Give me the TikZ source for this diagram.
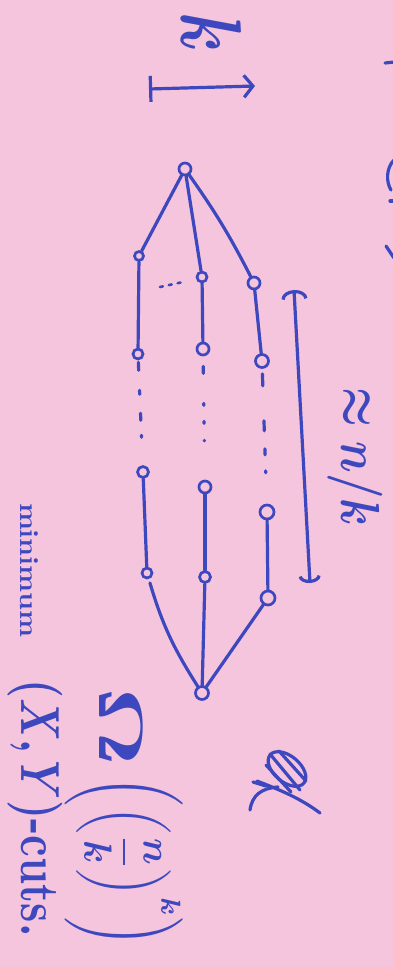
\documentclass[tikz,border=0pt]{standalone}
\usepackage{graphicx}
\usetikzlibrary{arrows.meta}
\definecolor{paper}{RGB}{245,197,222}
\definecolor{ink}{RGB}{62,72,190}
\begin{document}
\begin{tikzpicture}[x=1pt,y=-1pt,
  hand/.style={rotate=-90, inner sep=0pt, outer sep=0pt, text=ink, font=\bfseries\boldmath},
  vtx/.style={circle, draw=ink, line width=2.7pt, minimum size=11pt, inner sep=0pt},
  pen/.style={draw=ink, line width=3.2pt, line cap=round, line join=round}]
\fill[paper] (0,0) rectangle (393,967);
\useasboundingbox (0,0) rectangle (393,967);

% vertices
\node[vtx, minimum size=12pt] (s)  at (185,169) {};
\node[vtx, minimum size=9pt]  (L1) at (139,256) {};
\node[vtx, minimum size=10pt] (L2) at (138,354) {};
\node[vtx, minimum size=11pt] (L3) at (143,472) {};
\node[vtx, minimum size=10pt] (L4) at (147,573) {};
\node[vtx, minimum size=10pt] (M1) at (202,277) {};
\node[vtx, minimum size=12pt] (M2) at (203,349) {};
\node[vtx, minimum size=12pt] (M3) at (205,487) {};
\node[vtx, minimum size=11pt] (M4) at (205,577) {};
\node[vtx, minimum size=12pt] (R1) at (254,283) {};
\node[vtx, minimum size=13pt] (R2) at (262,361) {};
\node[vtx, minimum size=14pt] (R3) at (267,512) {};
\node[vtx, minimum size=14pt] (R4) at (268,598) {};
\node[vtx, minimum size=13pt] (t)  at (202,693) {};

% edges
\draw[pen] (s) -- (L1);
\draw[pen] (s) -- (M1);
\draw[pen] (s) to[bend left=4] (R1);
\draw[pen] (L1) -- (L2);
\draw[pen] (M1) -- (M2);
\draw[pen] (R1) -- (R2);
\draw[pen, shorten <=2pt, dash pattern=on 8pt off 20pt on 4pt off 19pt on 7pt off 15pt on 2pt off 100pt] (L2) -- (L3);
\draw[pen, shorten <=10pt, dash pattern=on 7pt off 30pt on 2pt off 16pt on 2pt off 17pt on 0.5pt off 100pt] (M2) -- (M3);
\draw[pen, shorten <=5pt, dash pattern=on 12pt off 35pt on 10pt off 18pt on 6pt off 16pt on 2pt off 100pt] (R2) -- (R3);
\draw[pen] (L3) -- (L4);
\draw[pen] (M3) -- (M4);
\draw[pen] (R3) -- (R4);
\draw[pen, shorten <=4pt] (L4) to[bend right=8] (t);
\draw[pen] (M4) -- (t);
\draw[pen] (R4) -- (t);

% dots between left and middle path
\coordinate (d1) at (160,287);
\coordinate (d2) at (183,282);
\draw[pen, line width=2.6pt, dash pattern=on 3pt off 6pt] (d1) -- (d2);

% length arrow
\coordinate (a1) at (294,290);
\coordinate (a2) at (310,583);
\draw[pen, {Arc Barb[length=9pt,width=26pt]}-{Arc Barb[length=7pt,width=22pt]}] (a1) -- (a2);
\node[hand] (approx) at (355,457) {\resizebox*{139pt}{55pt}{$\approx n/k$}};

% top: k and arrow
\node[hand] (kk) at (212,33) {\resizebox*{40pt}{60pt}{$k$}};
\coordinate (ta) at (149,89);
\coordinate (tb) at (255,86);
\draw[pen, {Bar[width=26pt]}-{Straight Barb[length=9pt,width=22pt]}] (ta) -- (tb);

% bottom text
\node[hand] (om) at (121,727) {\resizebox*{79pt}{43pt}{$\Omega$}};
\node[hand] (pp) at (124,862) {\resizebox*{170pt}{118pt}{$\displaystyle\left(\left(\frac{n}{k}\right)^{k}\right)$}};
\node[hand] (mn) at (29,570) {\resizebox*{134pt}{18pt}{minimum}};
\node[hand] (ct) at (35,808) {\resizebox*{257pt}{55pt}{$(X,Y)$-cuts.}};

% crossed-out scribble
\draw[pen, rotate around={-40:(287,769)}] (287,769) ellipse [x radius=22, y radius=13];
\draw[pen] (270,754) -- (300,790);
\draw[pen] (279,751) -- (306,781);
\draw[pen] (266,765) -- (291,792);
\draw[pen] (257,781) .. controls (280,790) and (300,798) .. (320,813);
\draw[pen] (250,810) .. controls (252,795) and (262,788) .. (278,787);
\draw[pen] (253,782) -- (266,786);

% letters cut off at the right edge
\draw[pen] (385,63) -- (394,62);
\draw[pen] (394,160) .. controls (386,168) and (386,182) .. (391,190);
\draw[pen] (390,201) -- (394,201);
\draw[pen] (386,246) -- (394,258);
\end{tikzpicture}
\end{document}
